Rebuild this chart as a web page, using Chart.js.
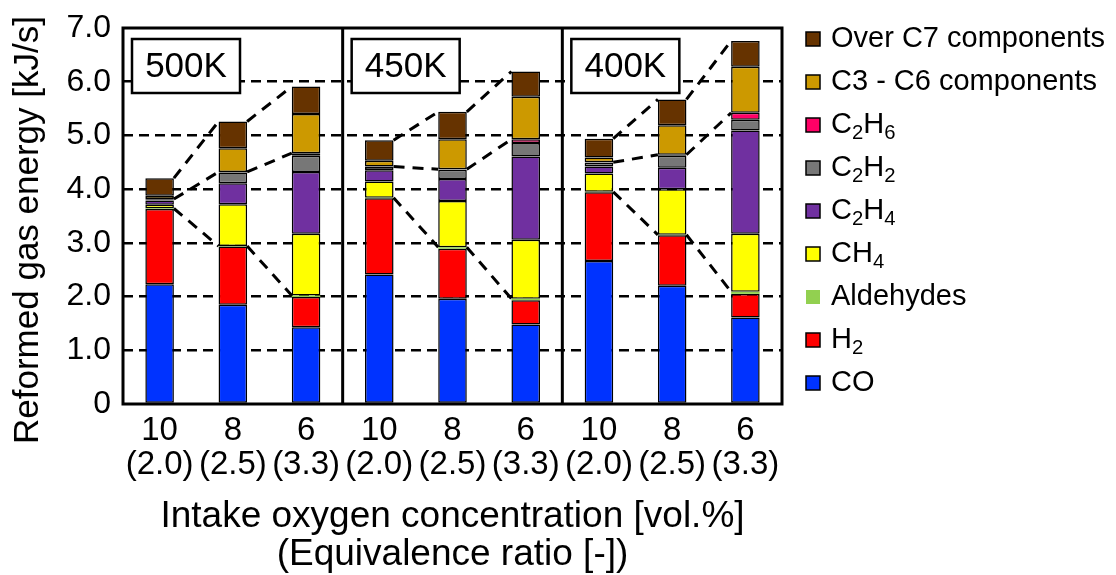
<!DOCTYPE html>
<html lang="en">
<head>
<meta charset="UTF-8">
<title>Reformed gas energy</title>
<script src="https://cdn.jsdelivr.net/npm/chart.js"></script>
<style>
  html, body { margin: 0; padding: 0; background: #fff; }
</style>
</head>
<body>
<canvas id="myChart" width="1116" height="575"></canvas>
<script>
// intake oxygen [vol.%] and equivalence ratio for each bar
const oxygen = ['10', '8', '6', '10', '8', '6', '10', '8', '6'];
const ratio = ['(2.0)', '(2.5)', '(3.3)', '(2.0)', '(2.5)', '(3.3)', '(2.0)', '(2.5)', '(3.3)'];
const temps = ['500K', '450K', '400K'];

// energy of each component [kJ/s]
const co        = [2.23, 1.85, 1.43, 2.41, 1.96, 1.48, 2.66, 2.20, 1.61];
const h2        = [1.40, 1.08, 0.56, 1.42, 0.93, 0.45, 1.28, 0.94, 0.44];
const aldehydes = [0.01, 0.01, 0.03, 0.01, 0.03, 0.03, 0.01, 0.01, 0.04];
const ch4       = [0.07, 0.78, 1.15, 0.30, 0.86, 1.10, 0.34, 0.85, 1.08];
const c2h4      = [0.08, 0.39, 1.15, 0.21, 0.41, 1.55, 0.13, 0.40, 1.92];
const c2h2      = [0.02, 0.20, 0.30, 0.06, 0.17, 0.25, 0.07, 0.22, 0.20];
const c2h6      = [0.005, 0.01, 0.05, 0.01, 0.01, 0.07, 0.01, 0.02, 0.13];
const c3c6      = [0.06, 0.44, 0.73, 0.11, 0.56, 0.79, 0.09, 0.55, 0.86];
const overC7    = [0.33, 0.50, 0.51, 0.38, 0.51, 0.47, 0.35, 0.48, 0.48];

const names  = ['CO', 'H₂', 'Aldehydes', 'CH₄', 'C₂H₄', 'C₂H₂', 'C₂H₆', 'C3 - C6 components', 'Over C7 components'];
const colors = ['#0033ff', '#ff0000', '#92d050', '#ffff00', '#7030a0', '#777777', '#ff0066', '#cc9900', '#663300'];
const series = [co, h2, aldehydes, ch4, c2h4, c2h2, c2h6, c3c6, overC7];

// dashed lines join these cumulative levels (last dataset index included)
const linkLevels = [2, 6, 8];

const yTitle = 'Reformed gas energy [kJ/s]';

const FONT = '"Liberation Sans", Arial, sans-serif';
Chart.defaults.font.family = FONT;
Chart.defaults.color = '#000';

function drawRich(ctx, text, x, y, size) {
    const subs = '₀₁₂₃₄₅₆₇₈₉';
    for (const ch of text) {
        const k = subs.indexOf(ch);
        if (k >= 0) {
            ctx.font = (size * 0.7) + 'px ' + FONT;
            ctx.fillText(String(k), x, y + size * 0.3);
            x += ctx.measureText(String(k)).width;
        } else {
            ctx.font = size + 'px ' + FONT;
            ctx.fillText(ch, x, y);
            x += ctx.measureText(ch).width;
        }
    }
}

const overlay = {
    id: 'overlay',
    afterDatasetsDraw(chart) {
        const ctx = chart.ctx;
        const area = chart.chartArea;
        const x = chart.scales.x;
        const y = chart.scales.y;
        const topMeta = chart.getDatasetMeta(series.length - 1);

        // dashed lines between neighbouring bars of a group
        ctx.save();
        ctx.strokeStyle = '#000';
        ctx.lineWidth = 3;
        ctx.setLineDash([11, 8]);
        linkLevels.forEach(level => {
            for (let i = 0; i < oxygen.length - 1; i++) {
                if (i % 3 === 2) continue;
                let s1 = 0, s2 = 0;
                for (let d = 0; d <= level; d++) { s1 += series[d][i]; s2 += series[d][i + 1]; }
                const b1 = topMeta.data[i], b2 = topMeta.data[i + 1];
                ctx.beginPath();
                ctx.moveTo(b1.x + b1.width / 2, y.getPixelForValue(s1));
                ctx.lineTo(b2.x - b2.width / 2, y.getPixelForValue(s2));
                ctx.stroke();
            }
        });
        ctx.restore();

        // frame and group separators
        ctx.save();
        ctx.strokeStyle = '#000';
        ctx.lineWidth = 3;
        ctx.strokeRect(area.left, area.top, area.right - area.left, area.bottom - area.top);
        const bounds = [area.left];
        for (let g = 1; g < temps.length; g++) {
            const bx = (x.getPixelForValue(g * 3 - 1) + x.getPixelForValue(g * 3)) / 2;
            bounds.push(bx);
            ctx.beginPath();
            ctx.moveTo(bx, area.top);
            ctx.lineTo(bx, area.bottom);
            ctx.stroke();
        }

        // temperature boxes
        ctx.lineWidth = 2.5;
        ctx.font = '35px ' + FONT;
        ctx.textAlign = 'center';
        ctx.textBaseline = 'middle';
        temps.forEach((t, g) => {
            const bx = bounds[g] + 9, by = area.top + 11, bw = 108, bh = 54;
            ctx.fillStyle = '#fff';
            ctx.fillRect(bx, by, bw, bh);
            ctx.strokeRect(bx, by, bw, bh);
            ctx.fillStyle = '#000';
            ctx.fillText(t, bx + bw / 2, by + bh / 2 + 1);
        });
        ctx.restore();
    },
    afterDraw(chart) {
        const ctx = chart.ctx;
        ctx.save();

        // y axis title, sits a little below the plot centre
        ctx.translate(28, 230);
        ctx.rotate(-Math.PI / 2);
        ctx.textAlign = 'center';
        ctx.textBaseline = 'middle';
        ctx.fillStyle = '#000';
        ctx.font = '35px ' + FONT;
        ctx.fillText(yTitle, 0, 0);
        ctx.setTransform(1, 0, 0, 1, 0, 0);

        // legend, top item is the top of the stack
        ctx.textAlign = 'left';
        ctx.textBaseline = 'middle';
        for (let k = 0; k < names.length; k++) {
            const d = names.length - 1 - k;
            const cy = 39 + k * 43;
            ctx.fillStyle = colors[d];
            ctx.fillRect(806, cy - 7, 14, 14);
            if (names[d] !== 'Aldehydes') {
                ctx.strokeStyle = '#000';
                ctx.lineWidth = 1.5;
                ctx.strokeRect(806, cy - 7, 14, 14);
            }
            ctx.fillStyle = '#000';
            drawRich(ctx, names[d], 831, cy, 29);
        }
        ctx.restore();
    }
};

const ctx = document.getElementById('myChart').getContext('2d');
new Chart(ctx, {
    type: 'bar',
    data: {
        labels: oxygen.map((o, i) => [o, ratio[i]]),
        datasets: series.map((s, d) => ({
            label: names[d],
            data: s,
            backgroundColor: colors[d],
            borderColor: '#000',
            borderWidth: d === 2 ? 0 : 1.5,
            borderSkipped: false,
            barPercentage: 0.39,
            categoryPercentage: 1.0
        }))
    },
    options: {
        responsive: false,
        animation: false,
        devicePixelRatio: 1,
        layout: { padding: { top: 16, right: 334, left: 0, bottom: 0 } },
        plugins: {
            legend: { display: false },
            tooltip: { enabled: false }
        },
        scales: {
            x: {
                stacked: true,
                grid: { display: false, drawTicks: false },
                border: { display: false },
                ticks: {
                    padding: 10,
                    maxRotation: 0,
                    autoSkip: false,
                    font: { size: 33, lineHeight: 1.02 }
                },
                title: {
                    display: true,
                    text: ['Intake oxygen concentration [vol.%]', '(Equivalence ratio [-])'],
                    font: { size: 37, lineHeight: 1.03 },
                    padding: { top: 0, bottom: 1 }
                },
                afterFit(scale) { scale.height = 171; }
            },
            y: {
                stacked: true,
                min: 0,
                max: 7,
                grid: {
                    drawTicks: false,
                    lineWidth: 2.5,
                    color: c => (c.tick && c.tick.value > 0 && c.tick.value < 7) ? '#000' : 'rgba(0,0,0,0)'
                },
                border: { display: false, dash: [10, 6] },
                ticks: {
                    stepSize: 1,
                    padding: 12,
                    font: { size: 32, lineHeight: 1 },
                    callback: v => v === 0 ? '0' : v.toFixed(1)
                },
                title: { display: false },
                afterFit(scale) { scale.width = 123; }
            }
        }
    },
    plugins: [overlay]
});
</script>
</body>
</html>
